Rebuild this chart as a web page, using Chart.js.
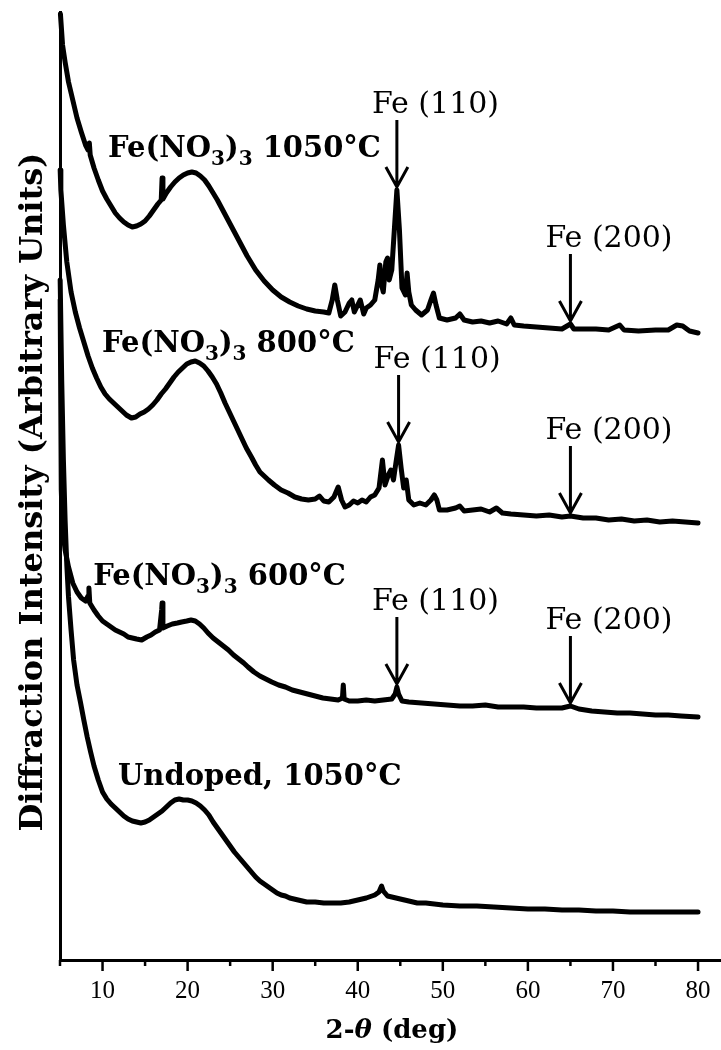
<!DOCTYPE html>
<html>
<head>
<meta charset="utf-8">
<script src="https://cdn.jsdelivr.net/npm/chart.js@4.4.0/dist/chart.umd.min.js"></script>
<style>
  html, body { margin: 0; padding: 0; background: #fff; }
  #wrap { width: 721px; height: 1050px; }
</style>
</head>
<body>
<div id="wrap"><canvas id="xrd" width="721" height="1050"></canvas></div>
<script>
// XRD patterns, [2-theta (deg), intensity (arb. units, offset per pattern)]
const pat1050 = [
  [5.05,946],[5.3,915],[5.6,898],[6.0,878],[6.5,860],[7.0,842],[7.5,828],[8.0,815],[8.3,810],[8.45,817],
  [8.55,805],[9.0,792],[9.5,780],[10.0,769],[10.5,761],[11.0,754],[11.5,747],[12.0,742],[12.5,738],[13.0,735],
  [13.5,733],[14.0,734],[14.5,736],[15.0,739],[15.5,744],[16.0,750],[16.5,756],[16.9,760],[17.0,782],[17.1,761],
  [17.5,767],[18.0,773],[18.5,778],[19.0,782],[19.5,785],[20.0,787],[20.5,788],[21.0,787],[21.5,784],[22.0,780],
  [22.5,774],[23.0,767],[23.5,760],[24.0,752],[24.5,744],[25.0,736],[25.5,728],[26.0,720],[27.0,704],[28.0,690],
  [29.0,679],[30.0,670],[31.0,663],[32.0,658],[33.0,654],[34.0,651],[35.0,649],[36.0,648],[36.6,647],[37.0,660],
  [37.3,675],[37.6,660],[38.0,644],[38.5,648],[39.0,657],[39.3,660],[39.6,648],[40.0,655],[40.3,660],[40.7,646],
  [41.0,652],[41.5,655],[42.0,660],[42.4,680],[42.6,695],[42.8,675],[43.0,668],[43.3,698],[43.5,702],[43.7,680],
  [44.0,690],[44.3,730],[44.6,770],[44.9,730],[45.2,672],[45.6,665],[45.8,687],[46.0,668],[46.3,655],[46.8,650],
  [47.5,645],[48.2,650],[48.6,660],[48.9,667],[49.2,655],[49.6,642],[50.5,640],[51.5,642],[52.0,646],[52.5,640],
  [53.5,638],[54.5,639],[55.5,637],[56.5,639],[57.5,636],[58.0,642],[58.4,635],[59.5,634],[61.0,633],[62.5,632],
  [64.0,631],[65.0,636],[65.4,631],[66.5,631],[68.0,631],[69.5,630],[70.8,635],[71.3,630],[73.0,629],[75.0,630],
  [76.5,630],[77.5,635],[78.2,634],[79.0,629],[80.0,627]
];
const pat800 = [
  [5.02,790],[5.1,770],[5.4,735],[5.8,698],[6.3,668],[6.8,648],[7.3,632],[7.8,618],[8.3,604],[8.8,592],
  [9.3,582],[9.8,573],[10.3,566],[10.8,561],[11.3,557],[11.8,553],[12.3,549],[12.8,545],[13.4,542],[13.9,543],
  [14.4,546],[14.9,548],[15.4,551],[15.9,555],[16.4,560],[16.9,566],[17.4,571],[17.9,577],[18.4,583],[18.9,588],
  [19.4,592],[19.9,596],[20.4,598],[20.9,599],[21.4,597],[21.9,594],[22.4,589],[22.9,583],[23.4,576],[23.9,567],
  [24.4,557],[24.9,548],[25.4,539],[25.9,530],[26.4,521],[26.9,512],[27.5,503],[28.0,495],[28.5,488],[29.0,484],
  [29.5,480],[30.2,475],[31.0,470],[31.8,467],[32.6,463],[33.4,461],[34.2,460],[35.0,461],[35.5,464],[36.0,459],
  [36.6,458],[37.2,463],[37.7,473],[38.1,460],[38.5,453],[39.0,455],[39.5,459],[40.0,457],[40.5,460],[41.0,458],
  [41.5,463],[42.0,465],[42.5,472],[42.9,500],[43.2,475],[43.6,485],[43.9,490],[44.2,480],[44.5,498],[44.8,515],
  [45.1,492],[45.4,472],[45.7,480],[46.0,460],[46.6,455],[47.3,457],[48.0,455],[48.6,460],[49.0,465],[49.3,460],
  [49.6,450],[50.5,450],[51.5,452],[52.0,454],[52.5,449],[53.5,450],[54.5,451],[55.5,448],[56.3,452],[57.0,447],
  [58.0,446],[59.5,445],[61.0,444],[62.5,445],[64.0,443],[65.0,444],[66.5,442],[68.0,442],[69.5,440],[71.0,441],
  [72.5,439],[74.0,440],[75.5,438],[77.0,439],[78.5,438],[80.0,437]
];
const pat600 = [
  [5.02,660],[5.15,470],[5.3,432],[5.6,410],[6.0,393],[6.5,377],[7.0,368],[7.5,362],[8.0,359],[8.3,364],
  [8.4,372],[8.5,357],[9.0,350],[9.5,344],[10.0,339],[10.5,336],[11.0,333],[11.5,330],[12.0,328],[12.5,326],
  [13.0,323],[13.5,322],[14.0,321],[14.6,320],[15.2,323],[15.7,325],[16.2,328],[16.7,330],[16.95,350],[17.0,357],
  [17.1,332],[17.6,334],[18.2,336],[18.8,337],[19.3,338],[19.9,339],[20.4,340],[20.9,339],[21.4,336],[21.9,332],
  [22.4,327],[23.0,322],[23.6,318],[24.2,314],[24.8,310],[25.4,305],[26.0,301],[26.6,297],[27.1,293],[27.8,288],
  [28.5,284],[29.2,281],[29.9,278],[30.7,275],[31.5,273],[32.3,270],[33.2,268],[34.1,266],[35.0,264],[35.9,262],
  [36.8,261],[37.7,260],[38.2,262],[38.3,275],[38.4,261],[39.0,259],[40.0,259],[41.0,260],[42.0,259],[43.0,260],
  [44.0,261],[44.4,266],[44.6,273],[44.8,266],[45.2,259],[46.0,258],[47.5,257],[49.0,256],[50.5,255],[52.0,254],
  [53.5,254],[55.0,255],[56.5,253],[58.0,253],[59.5,253],[61.0,252],[62.5,252],[64.0,252],[65.0,254],[66.0,251],
  [67.5,249],[69.0,248],[70.5,247],[72.0,247],[73.5,246],[75.0,245],[76.5,245],[78.0,244],[80.0,243]
];
const patUndoped = [
  [5.02,680],[5.2,580],[5.4,500],[5.6,440],[5.8,395],[6.0,363],[6.3,330],[6.6,300],[7.0,275],[7.4,258],
  [7.8,240],[8.2,223],[8.6,208],[9.0,194],[9.5,180],[10.0,168],[10.5,161],[11.0,156],[11.5,152],[12.0,148],
  [12.5,144],[13.0,141],[13.5,139],[14.0,138],[14.5,137],[15.0,138],[15.5,140],[16.0,143],[16.5,146],[17.0,149],
  [17.5,153],[18.0,157],[18.5,160],[19.0,161],[19.5,160],[20.0,160],[20.5,159],[21.0,157],[21.5,154],[22.0,150],
  [22.5,145],[23.0,138],[23.5,132],[24.0,126],[24.5,120],[25.0,114],[25.5,108],[26.0,103],[26.5,98],[27.0,93],
  [27.5,88],[28.0,83],[28.5,79],[29.0,76],[29.5,73],[30.0,70],[30.5,67],[31.0,65],[31.5,64],[32.0,62],
  [33.0,60],[34.0,58],[35.0,58],[36.0,57],[37.0,57],[38.0,57],[39.0,58],[40.0,60],[41.0,62],[42.0,65],
  [42.5,68],[42.8,74],[43.0,69],[43.5,64],[44.0,63],[45.0,61],[46.0,59],[47.0,57],[48.0,57],[49.0,56],
  [50.0,55],[52.0,54],[54.0,54],[56.0,53],[58.0,52],[60.0,51],[62.0,51],[64.0,50],[66.0,50],[68.0,49],
  [70.0,49],[72.0,48],[74.0,48],[76.0,48],[78.0,48],[80.0,48]
];

const tickValues = [5, 10, 15, 20, 25, 30, 35, 40, 45, 50, 55, 60, 65, 70, 75, 80];

// sample names, subscripts flagged with 1
const sampleLabels = [
  { parts: [['Fe(NO'], ['3', 1], [')'], ['3', 1], [' 1050°C']], x: 10.65, y: 803 },
  { parts: [['Fe(NO'], ['3', 1], [')'], ['3', 1], [' 800°C']], x: 9.94, y: 608 },
  { parts: [['Fe(NO'], ['3', 1], [')'], ['3', 1], [' 600°C']], x: 8.9, y: 375 },
  { parts: [['Undoped, 1050°C']], x: 11.82, y: 175 }
];

// iron reflections marked on the doped patterns
const feMarks = [
  { pat: pat1050, x: 44.6, text: 'Fe (110)' },
  { pat: pat1050, x: 65.0, text: 'Fe (200)' },
  { pat: pat800, x: 44.8, text: 'Fe (110)' },
  { pat: pat800, x: 65.0, text: 'Fe (200)' },
  { pat: pat600, x: 44.6, text: 'Fe (110)' },
  { pat: pat600, x: 65.0, text: 'Fe (200)' }
];

function valueAt(pat, xv) {
  for (let i = 1; i < pat.length; i++) {
    if (pat[i][0] >= xv) {
      const [x0, y0] = pat[i - 1], [x1, y1] = pat[i];
      return y0 + (y1 - y0) * (xv - x0) / (x1 - x0);
    }
  }
  return pat[pat.length - 1][1];
}

const serif = '"DejaVu Serif", "Liberation Serif", serif';

const decor = {
  id: 'decor',
  afterDraw(chart) {
    const { ctx, chartArea, scales: { x, y } } = chart;
    ctx.save();
    ctx.fillStyle = '#000';
    ctx.strokeStyle = '#000';

    // tick marks, long at the labelled decades
    ctx.lineWidth = 2.5;
    tickValues.forEach(v => {
      const px = x.getPixelForValue(v);
      const len = v % 10 === 0 ? 11 : 6;
      ctx.beginPath();
      ctx.moveTo(px, chartArea.bottom);
      ctx.lineTo(px, chartArea.bottom + len);
      ctx.stroke();
    });

    // sample names
    sampleLabels.forEach(lab => {
      let cx = x.getPixelForValue(lab.x);
      const by = y.getPixelForValue(lab.y);
      ctx.textBaseline = 'alphabetic';
      ctx.textAlign = 'left';
      lab.parts.forEach(([t, sub]) => {
        ctx.font = sub ? `bold 20px ${serif}` : `bold 29px ${serif}`;
        ctx.fillText(t, cx, sub ? by + 8 : by);
        cx += ctx.measureText(t).width;
      });
    });

    // Fe reflection arrows
    feMarks.forEach(m => {
      const px = x.getPixelForValue(m.x);
      const tip = y.getPixelForValue(valueAt(m.pat, m.x)) - 3;
      const top = tip - 67;
      ctx.lineWidth = 3;
      ctx.lineCap = 'butt';
      ctx.beginPath();
      ctx.moveTo(px, top);
      ctx.lineTo(px, tip);
      ctx.moveTo(px - 11, tip - 20);
      ctx.lineTo(px, tip);
      ctx.lineTo(px + 11, tip - 20);
      ctx.stroke();
      ctx.font = `30px ${serif}`;
      ctx.textAlign = 'left';
      ctx.textBaseline = 'alphabetic';
      ctx.fillText(m.text, px - 25, top - 7);
    });

    // axis titles
    ctx.save();
    ctx.translate(42, 492);
    ctx.rotate(-Math.PI / 2);
    ctx.font = `bold 32px ${serif}`;
    ctx.textAlign = 'center';
    ctx.textBaseline = 'alphabetic';
    ctx.fillText('Diffraction Intensity (Arbitrary Units)', 0, 0);
    ctx.restore();

    const parts = [['2-', `bold 26px ${serif}`], ['θ', `italic bold 26px ${serif}`], [' (deg)', `bold 26px ${serif}`]];
    let total = 0;
    parts.forEach(([t, f]) => { ctx.font = f; total += ctx.measureText(t).width; });
    let tx = 392 - total / 2;
    ctx.textAlign = 'left';
    parts.forEach(([t, f]) => {
      ctx.font = f;
      ctx.fillText(t, tx, 1038);
      tx += ctx.measureText(t).width;
    });
    ctx.restore();
  }
};

const lineStyle = {
  borderColor: '#000',
  borderWidth: 5,
  pointRadius: 0,
  tension: 0,
  fill: false,
  borderJoinStyle: 'round',
  borderCapStyle: 'round',
  clip: false
};

const toXY = pat => pat.map(([a, b]) => ({ x: a, y: b }));

new Chart(document.getElementById('xrd'), {
  type: 'line',
  data: {
    datasets: [
      { label: 'Fe(NO3)3 1050°C', data: toXY(pat1050), ...lineStyle },
      { label: 'Fe(NO3)3 800°C', data: toXY(pat800), ...lineStyle },
      { label: 'Fe(NO3)3 600°C', data: toXY(pat600), ...lineStyle },
      { label: 'Undoped, 1050°C', data: toXY(patUndoped), ...lineStyle }
    ]
  },
  options: {
    responsive: false,
    animation: false,
    layout: { padding: { top: 12, right: 0, left: 0, bottom: 0 } },
    plugins: { legend: { display: false }, tooltip: { enabled: false } },
    scales: {
      x: {
        type: 'linear',
        min: 5,
        max: 82.7,
        afterBuildTicks: s => { s.ticks = tickValues.map(v => ({ value: v })); },
        afterFit: s => { s.height = 90; },
        ticks: {
          autoSkip: false,
          maxRotation: 0,
          padding: 5,
          color: '#000',
          font: { family: '"Liberation Serif", serif', size: 25 },
          callback: v => (v % 10 === 0 ? String(v) : '')
        },
        grid: { display: false, drawTicks: true, tickLength: 11 },
        border: { color: '#000', width: 3 }
      },
      y: {
        min: 0,
        max: 948,
        afterFit: s => { s.width = 60; },
        ticks: { display: false },
        grid: { display: false, drawTicks: false },
        border: { color: '#000', width: 3 }
      }
    }
  },
  plugins: [decor]
});
</script>
</body>
</html>
